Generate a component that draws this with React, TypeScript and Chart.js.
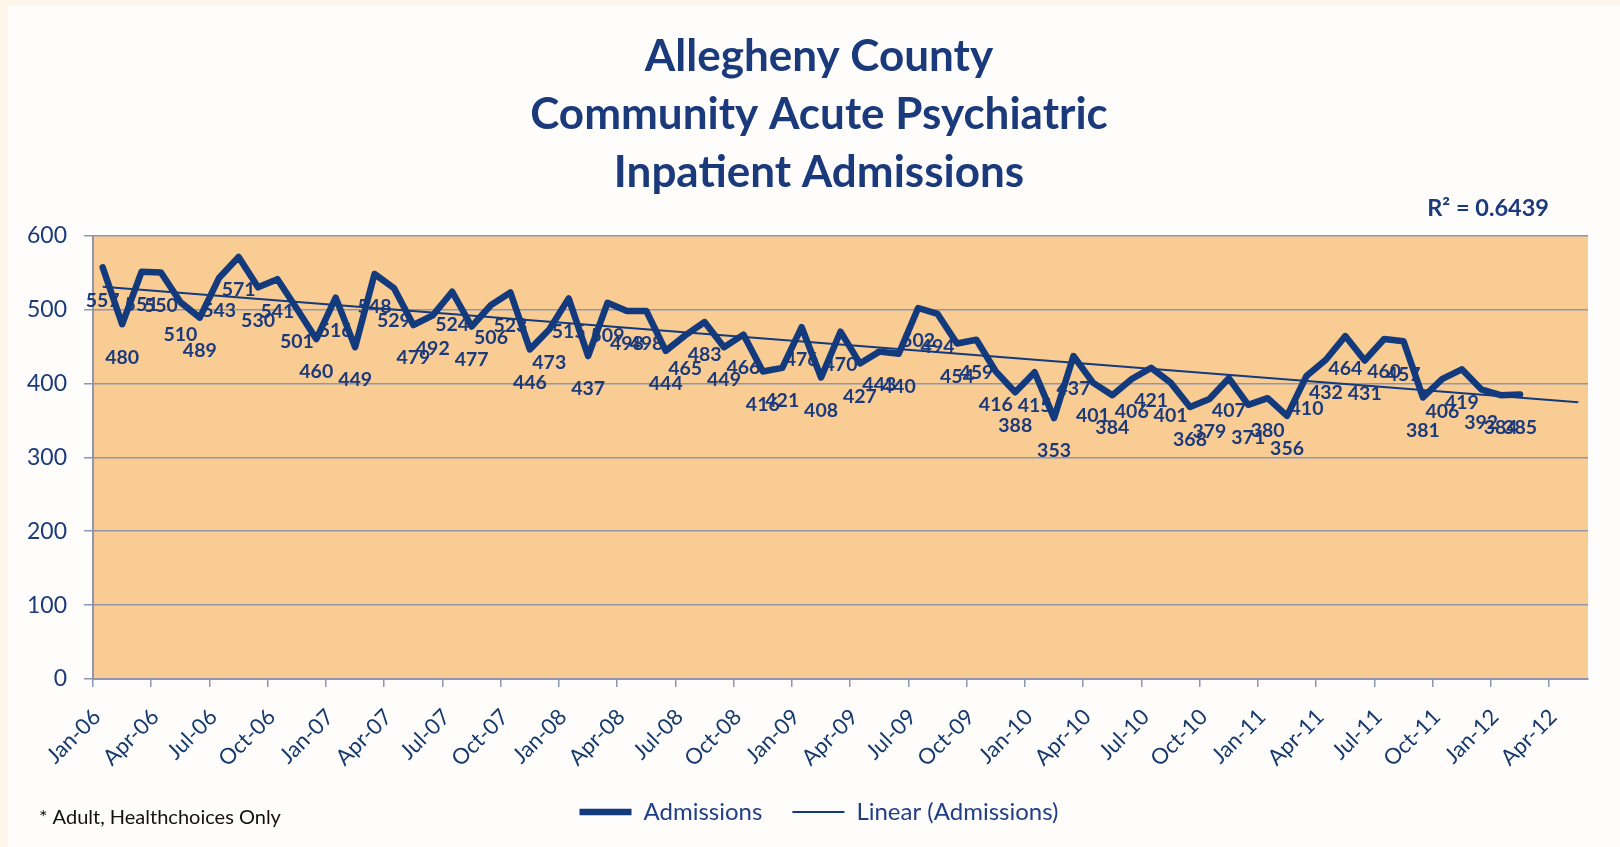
import React, { useEffect, useRef } from "react";
import { Chart, registerables } from "chart.js";
Chart.register(...registerables);

// Monthly admissions, Jan-06 .. Feb-12
const admissions: number[] = [
  557, 480, 551, 550, 510, 489, 543, 571, 530, 541, 501, 460,
  516, 449, 548, 529, 479, 492, 524, 477, 506, 523, 446, 473,
  515, 437, 509, 498, 498, 444, 465, 483, 449, 466, 416, 421,
  476, 408, 470, 427, 443, 440, 502, 494, 454, 459, 416, 388,
  415, 353, 437, 401, 384, 406, 421, 401, 368, 379, 407, 371,
  380, 356, 410, 432, 464, 431, 460, 457, 381, 406, 419, 392,
  384, 385,
];

const tickLabels: string[] = [
  "Jan-06", "Apr-06", "Jul-06", "Oct-06",
  "Jan-07", "Apr-07", "Jul-07", "Oct-07",
  "Jan-08", "Apr-08", "Jul-08", "Oct-08",
  "Jan-09", "Apr-09", "Jul-09", "Oct-09",
  "Jan-10", "Apr-10", "Jul-10", "Oct-10",
  "Jan-11", "Apr-11", "Jul-11", "Oct-11",
  "Jan-12", "Apr-12",
];

const titleLines: string[] = [
  "Allegheny County",
  "Community Acute Psychiatric",
  "Inpatient Admissions",
];

const totalMonths = 77; // Jan-06 .. May-12 on the axis
const forecastPeriods = 3; // trendline extended forward
const rSquaredText = "R\u00B2 = 0.6439";
const footnote = "* Adult, Healthchoices Only";

const FONT = "Lato, 'Open Sans', sans-serif";
const NAVY = "#123A7D";
const TEXT = "#1B3A7C";
const GRID = "#8E95B0";
const PLOT_BG = "#F9CC94";
const PAGE_BG = "#FFFDFB";

function linearFit(ys: number[]) {
  const n = ys.length;
  const xm = (n - 1) / 2;
  const ym = ys.reduce((a, b) => a + b, 0) / n;
  let sxy = 0, sxx = 0;
  ys.forEach((y, i) => { sxy += (i - xm) * (y - ym); sxx += (i - xm) * (i - xm); });
  const slope = sxy / sxx;
  return { slope, intercept: ym - slope * xm };
}

export default function App() {
  const ref = useRef<HTMLCanvasElement | null>(null);

  useEffect(() => {
    document.body.style.margin = "6px 0 0 8px";
    document.body.style.background = "#FDF4EA";
    const canvas = ref.current;
    if (!canvas) return;

    const fit = linearFit(admissions);
    const lastX = admissions.length - 1 + forecastPeriods;
    const trend = [
      { x: 0.5, y: fit.intercept },
      { x: lastX + 0.5, y: fit.intercept + fit.slope * lastX },
    ];

    const decor = {
      id: "decor",
      beforeDraw(chart: any) {
        const { ctx, chartArea: a } = chart;
        ctx.save();
        ctx.fillStyle = PAGE_BG;
        ctx.fillRect(0, 0, chart.width, chart.height);
        ctx.fillStyle = PLOT_BG;
        ctx.fillRect(a.left, a.top, a.right - a.left, a.bottom - a.top);
        ctx.restore();
      },
      beforeDatasetsDraw(chart: any) {
        const { ctx } = chart;
        const meta = chart.getDatasetMeta(0);
        ctx.save();
        ctx.font = `bold 19.5px ${FONT}`;
        ctx.fillStyle = TEXT;
        ctx.textAlign = "center";
        ctx.textBaseline = "middle";
        meta.data.forEach((el: any, i: number) => {
          ctx.fillText(String(admissions[i]), el.x, el.y + 33);
        });
        ctx.restore();
      },
      afterDraw(chart: any) {
        const { ctx } = chart;
        ctx.save();
        ctx.font = `bold 23.5px ${FONT}`;
        ctx.fillStyle = TEXT;
        ctx.textAlign = "right";
        ctx.textBaseline = "middle";
        ctx.fillText(rSquaredText, 1541, 202);
        ctx.font = `20px ${FONT}`;
        ctx.fillStyle = "#111111";
        ctx.textAlign = "left";
        ctx.fillText(footnote, 31, 812);
        ctx.restore();
      },
    };

    const chart = new Chart(canvas, {
      type: "line",
      data: {
        datasets: [
          {
            label: "Admissions",
            data: admissions.map((v, i) => ({ x: i + 0.5, y: v })),
            borderColor: NAVY,
            backgroundColor: NAVY,
            borderWidth: 6.5,
            borderCapStyle: "round",
            borderJoinStyle: "round",
            pointRadius: 0,
            tension: 0,
          },
          {
            label: "Linear (Admissions)",
            data: trend,
            borderColor: NAVY,
            backgroundColor: NAVY,
            borderWidth: 2,
            pointRadius: 0,
            tension: 0,
          },
        ],
      },
      options: {
        animation: false,
        responsive: false,
        devicePixelRatio: 1,
        layout: { padding: { left: 10, right: 0, top: 0, bottom: 13 } },
        plugins: {
          title: {
            display: true,
            text: titleLines,
            color: TEXT,
            font: { family: FONT, size: 44, weight: "bold", lineHeight: 1.318 },
            padding: { top: 22, bottom: 33.6 },
          },
          legend: {
            position: "bottom",
            labels: {
              usePointStyle: true,
              pointStyle: "line",
              pointStyleWidth: 52,
              color: "#1F3F87",
              font: { family: FONT, size: 24 },
              padding: 30,
            },
          },
          tooltip: { enabled: false },
        },
        scales: {
          x: {
            type: "linear",
            min: 0,
            max: totalMonths,
            afterFit: (s: any) => { s.height = 91; },
            ticks: {
              stepSize: 3,
              autoSkip: false,
              includeBounds: false,
              maxRotation: 45,
              minRotation: 45,
              padding: 17,
              labelOffset: 4,
              color: "#163A6E",
              font: { family: FONT, size: 22 },
              callback: (v: any) => (v % 3 === 0 && tickLabels[v / 3] !== undefined ? tickLabels[v / 3] : null),
            },
            grid: { drawOnChartArea: false, drawTicks: true, tickLength: 8, color: GRID, lineWidth: 1.5 },
            border: { color: GRID, width: 2 },
          },
          y: {
            min: 0,
            max: 600,
            afterFit: (s: any) => { s.width = 75; },
            ticks: { stepSize: 100, padding: 17, color: TEXT, font: { family: FONT, size: 23 } },
            grid: { color: GRID, lineWidth: 1.5, tickLength: 9 },
            border: { color: GRID, width: 2 },
          },
          yRight: {
            position: "right",
            display: true,
            min: 0,
            max: 600,
            afterFit: (s: any) => { s.width = 32; },
            ticks: { display: false },
            grid: { display: false, drawTicks: false },
            border: { display: false },
          },
        },
      },
      plugins: [decor],
    } as any);

    return () => chart.destroy();
  }, []);

  return <canvas ref={ref} width={1612} height={841} style={{ display: "block" }} />;
}
